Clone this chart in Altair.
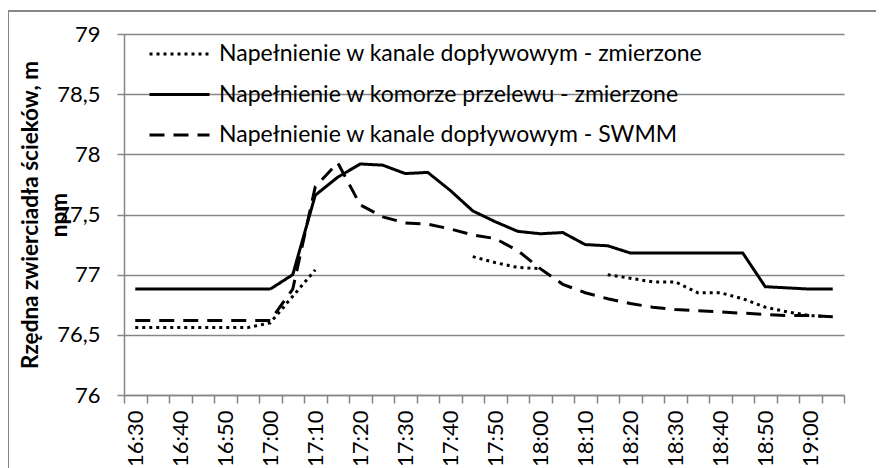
import altair as alt
import pandas as pd

times = ["16:30", "16:35", "16:40", "16:45", "16:50", "16:55", "17:00", "17:05",
         "17:10", "17:15", "17:20", "17:25", "17:30", "17:35", "17:40", "17:45",
         "17:50", "17:55", "18:00", "18:05", "18:10", "18:15", "18:20", "18:25",
         "18:30", "18:35", "18:40", "18:45", "18:50", "18:55", "19:00", "19:05"]

series_names = [
    "Napełnienie w kanale dopływowym - zmierzone",
    "Napełnienie w komorze przelewu - zmierzone",
    "Napełnienie w kanale dopływowym - SWMM",
]

dotted_vals = [76.56, 76.56, 76.56, 76.56, 76.56, 76.56, 76.60, 76.82,
               77.04, None, None, None, None, None, None, 77.15,
               77.10, 77.06, 77.05, None, None, 77.00, 76.97, 76.94,
               76.94, 76.85, 76.85, 76.80, 76.73, 76.69, 76.66, 76.65]

solid_vals = [76.88, 76.88, 76.88, 76.88, 76.88, 76.88, 76.88, 77.00,
              77.66, 77.81, 77.92, 77.91, 77.84, 77.85, 77.70, 77.53,
              77.44, 77.36, 77.34, 77.35, 77.25, 77.24, 77.18, 77.18,
              77.18, 77.18, 77.18, 77.18, 76.90, 76.89, 76.88, 76.88]

dashed_vals = [76.62, 76.62, 76.62, 76.62, 76.62, 76.62, 76.62, 76.88,
               77.73, 77.93, 77.58, 77.48, 77.43, 77.42, 77.38, 77.33,
               77.30, 77.20, 77.05, 76.92, 76.85, 76.80, 76.76, 76.73,
               76.71, 76.70, 76.69, 76.68, 76.67, 76.66, 76.66, 76.65]

y_ticks = [76, 76.5, 77, 77.5, 78, 78.5, 79]

t0 = 16 * 60 + 30
minutes = [int(t[:2]) * 60 + int(t[3:]) - t0 for t in times]

rows = []
for name, vals in zip(series_names, [dotted_vals, solid_vals, dashed_vals]):
    seg = 0
    prev_none = True
    for m, v in zip(minutes, vals):
        if v is None:
            prev_none = True
            continue
        if prev_none:
            seg += 1
            prev_none = False
        rows.append({"minute": m, "value": v, "series": name, "seg": f"{name}-{seg}"})
df = pd.DataFrame(rows)

step = minutes[1] - minutes[0]
x_lo = minutes[0] - step / 2
x_hi = minutes[-1] + step / 2
axis_vals = [x_lo + i * step / 2 for i in range(2 * len(minutes) + 1)]

FONT = "Lato"
GRAY = "#868686"

label_expr = (
    "datum.value % 10 == 0 ? "
    "(16 + floor((datum.value + 30) / 60)) + ':' + "
    "(((datum.value + 30) % 60) < 10 ? '0' : '') + ((datum.value + 30) % 60) : ''"
)

lines = alt.Chart(df).mark_line(color="black", strokeWidth=3).encode(
    x=alt.X("minute:Q",
            scale=alt.Scale(domain=[x_lo, x_hi], nice=False, zero=False),
            axis=alt.Axis(title=None, values=axis_vals, labelAngle=-90,
                          labelExpr=label_expr, labelOverlap=False, grid=False,
                          tickOpacity={"condition": {"test": "(datum.value + 2.5) % 5 == 0",
                                                     "value": 1}, "value": 0},
                          domainColor=GRAY, domainWidth=1.5, tickColor=GRAY,
                          tickWidth=1.5, tickSize=8, labelPadding=7,
                          labelFont=FONT, labelFontSize=22, labelColor="black")),
    y=alt.Y("value:Q", scale=alt.Scale(domain=[76, 79], nice=False, zero=False),
            axis=alt.Axis(values=y_ticks, format="~g",
                          labelExpr="replace(datum.label, '.', ',')",
                          title=["Rzędna zwierciadła ścieków, m", "npm"],
                          titleFont=FONT, titleFontSize=22.5, titleFontWeight="bold",
                          titleColor="black", titleLineHeight=29,
                          titleX=-87, titleY=180.5, titleAlign="center",
                          titleBaseline="alphabetic",
                          grid=True, gridColor=GRAY, gridWidth=1.5,
                          domainColor=GRAY, domainWidth=1.5, tickColor=GRAY,
                          tickWidth=1.5, tickSize=7, labelPadding=17,
                          labelFont=FONT, labelFontSize=22, labelColor="black")),
    strokeDash=alt.StrokeDash(
        "series:N",
        scale=alt.Scale(domain=series_names, range=[[3, 4], [1, 0], [15, 9]]),
        legend=alt.Legend(title=None, orient="none", legendX=24, legendY=9,
                          direction="vertical", symbolType="stroke",
                          symbolSize=3600, symbolStrokeWidth=3,
                          symbolStrokeColor="black", clipHeight=22,
                          labelFont=FONT, labelFontSize=23, labelColor="black",
                          labelOffset=8, labelLimit=800, rowPadding=17.5, padding=0),
    ),
    detail="seg:N",
)

frame = alt.Chart(pd.DataFrame({"a": [0]})).mark_rect(
    fillOpacity=0, stroke=GRAY, strokeWidth=2
).encode(
    x=alt.value(-116), y=alt.value(-23), x2=alt.value(800), y2=alt.value(500)
)

chart = alt.layer(frame, lines).properties(
    width=720, height=361,
    autosize=alt.AutoSizeParams(type="none"),
    padding={"left": 116, "top": 26, "right": 32, "bottom": 73},
).configure_view(stroke=None)

chart.save("out.html", embed_options={"renderer": "svg", "actions": False})
